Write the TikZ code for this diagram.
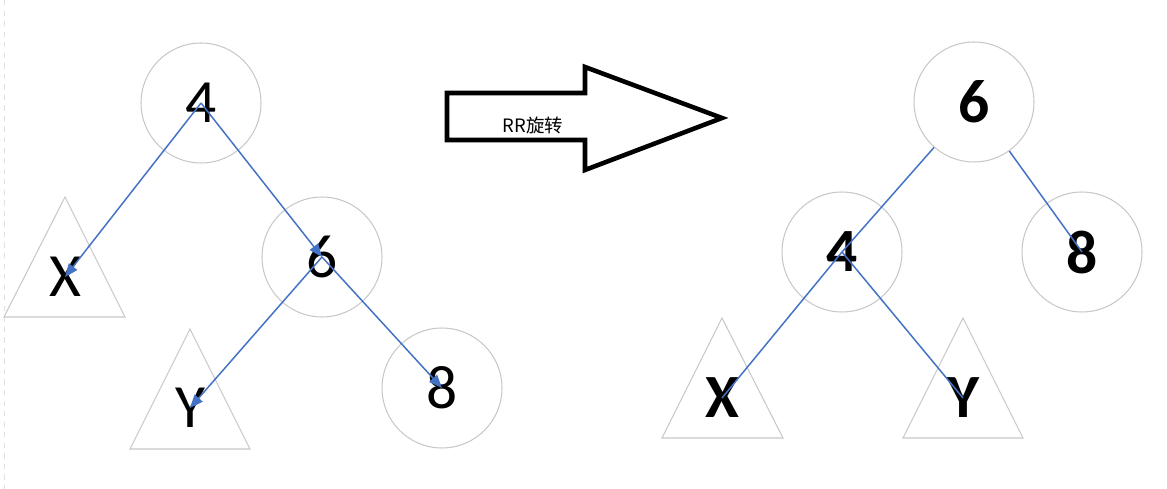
\documentclass[tikz,border=0pt]{standalone}
\usepackage{fontspec}
\setmainfont{Carlito}
\newfontfamily\cjk{Noto Sans CJK SC}
\usetikzlibrary{arrows.meta}
\definecolor{edgeblue}{HTML}{4472C4}
\definecolor{ringgray}{HTML}{C8C8C8}

\begin{document}
\begin{tikzpicture}[x=0.02cm, y=-0.02cm,
    circ/.style={circle, draw=ringgray, line width=0.6pt, minimum size=2.4cm, inner sep=0pt},
    lab/.style={inner sep=0pt},
    sub/.style={draw=ringgray, line width=0.6pt},
    edge/.style={draw=edgeblue, line width=0.85pt},
    big/.style={font=\fontsize{35}{40}\selectfont},
    bigbold/.style={font=\fontsize{35}{40}\selectfont\bfseries}]

    \useasboundingbox (0,0) rectangle (1167,489);
    \draw[black!12, dashed, line width=0.5pt] (4,0) -- (4,489);

    % before: left tree
    \draw[sub] (65,197) -- (125,317) -- (4,317) -- cycle;
    \draw[sub] (190,329) -- (250,449) -- (130,449) -- cycle;
    \node[circ, big] (a4) at (201,103) {4};
    \node[circ, big] (a6) at (322,257) {6};
    \node[circ, big] (a8) at (442,388) {8};
    \node[lab, big] (ax) at (65,277) {X};
    \node[lab, big] (ay) at (190,408) {Y};

    \draw[edge, -{Triangle[length=7.5pt, width=6pt]}] (a4.center) -- (ax.center);
    \draw[edge, -{Triangle[length=7.5pt, width=6pt]}] (a4.center) -- (a6.center);
    \draw[edge, -{Triangle[length=7.5pt, width=6pt]}] (a6.center) -- (ay.center);
    \draw[edge, -{Triangle[length=7.5pt, width=6pt]}] (a6.center) -- (a8.center);

    % rotation arrow
    \draw[line width=2.6pt, miter limit=10] (447,93) -- (585,93) -- (585,67) -- (722,118)
        -- (585,170) -- (585,140) -- (447,140) -- cycle;
    \node[lab, font=\cjk\fontsize{10.5}{12}\selectfont] (rot) at (533,125) {RR旋转};

    % after: right tree
    \draw[sub] (722,318) -- (783,438) -- (662,438) -- cycle;
    \draw[sub] (963,318) -- (1023,438) -- (903,438) -- cycle;
    \node[circ, bigbold] (b6) at (974,102) {6};
    \node[circ, bigbold] (b4) at (842,252) {4};
    \node[circ, bigbold] (b8) at (1082,252) {8};
    \node[lab, bigbold] (bx) at (722,398) {X};
    \node[lab, bigbold] (by) at (963,398) {Y};

    \draw[edge] (b6) -- (b4.center);
    \draw[edge] (b4.center) -- (bx.center);
    \draw[edge] (b4.center) -- (by.center);
    \draw[edge] (b6) -- (b8.center);

\end{tikzpicture}
\end{document}
